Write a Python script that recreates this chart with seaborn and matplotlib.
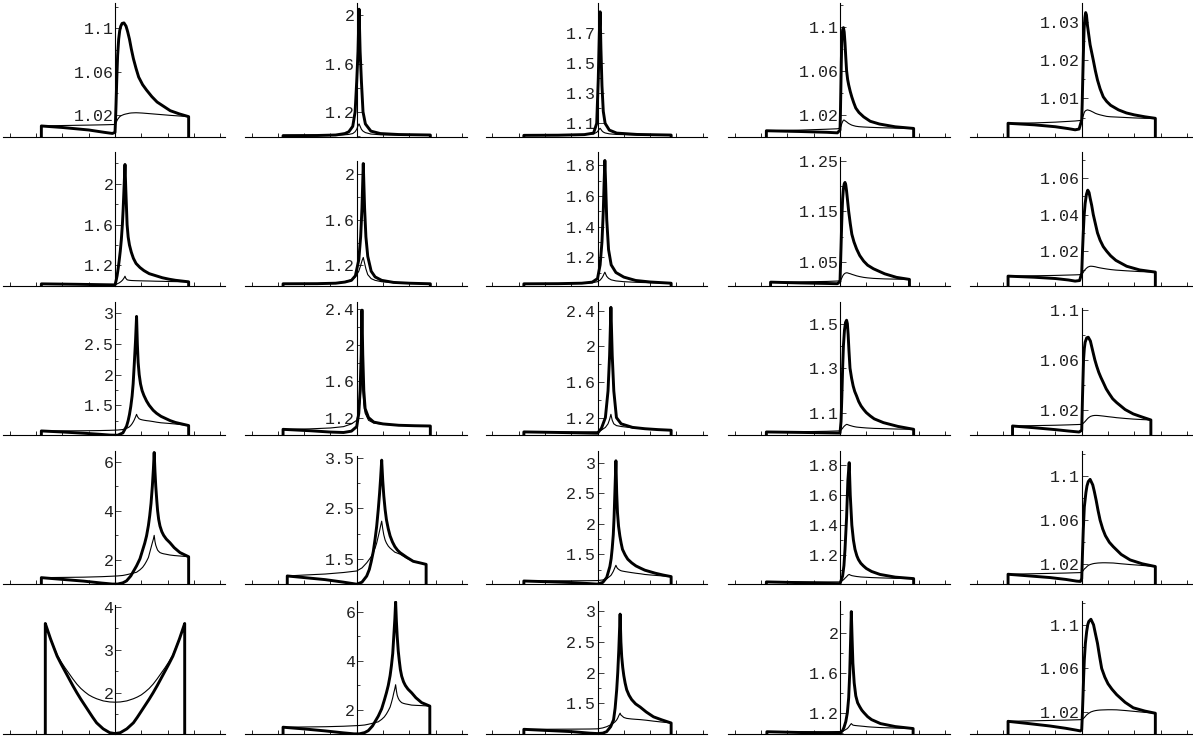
import matplotlib
matplotlib.use("Agg")
import matplotlib.pyplot as plt
import seaborn as sns

# ---------------- data ----------------
# Each panel: shared x grid, thick curve values, thin curve values, labelled y ticks.
P11_X = [-2.8, -2.0, -1.0, -0.4, -0.1, 0.0, 0.02, 0.04, 0.07, 0.1, 0.14, 0.18, 0.22, 0.27, 0.34, 0.42, 0.48, 0.55, 0.62, 0.7, 0.8, 0.9, 1.05, 1.2, 1.4, 1.6, 1.85, 2.1, 2.45, 2.8]
P11_THICK = [1.0099, 1.0085, 1.0062, 1.004, 1.003, 1.004, 1.015, 1.03, 1.055, 1.075, 1.09, 1.098, 1.102, 1.1045, 1.105, 1.102, 1.097, 1.09, 1.081, 1.072, 1.063, 1.055, 1.048, 1.043, 1.037, 1.032, 1.028, 1.024, 1.021, 1.0185]
P11_THIN = [1.0099, 1.0103, 1.0107, 1.011, 1.0112, 1.0113, 1.012, 1.013, 1.0145, 1.016, 1.0173, 1.0185, 1.0192, 1.0198, 1.0205, 1.021, 1.0213, 1.0217, 1.0219, 1.022, 1.0221, 1.022, 1.0218, 1.0215, 1.0211, 1.0207, 1.0202, 1.0197, 1.0191, 1.0185]
P11_TICKS = [1.02, 1.06, 1.1]

P12_X = [-2.8, -1.5, -0.8, -0.45, -0.3, -0.15, -0.06, 0.0, 0.05, 0.09, 0.13, 0.18, 0.24, 0.33, 0.54, 0.9, 1.6, 2.8]
P12_THICK = [1.003, 1.004, 1.008, 1.02, 1.035, 1.08, 1.2, 1.45, 1.7, 2.05, 1.7, 1.45, 1.2, 1.1, 1.04, 1.02, 1.012, 1.008]
P12_THIN = [1.003, 1.004, 1.006, 1.01, 1.013, 1.02, 1.035, 1.055, 1.085, 1.10, 1.08, 1.055, 1.04, 1.028, 1.016, 1.01, 1.008, 1.008]
P12_TICKS = [1.2, 1.6, 2.0]

P13_X = [-2.8, -1.5, -0.5, -0.15, -0.03, 0.03, 0.07, 0.1, 0.13, 0.17, 0.22, 0.29, 0.45, 0.73, 1.5, 2.8]
P13_THICK = [1.02, 1.021, 1.025, 1.035, 1.1, 1.4, 1.7, 1.844, 1.6, 1.35, 1.18, 1.1, 1.055, 1.035, 1.026, 1.022]
P13_THIN = [1.02, 1.021, 1.024, 1.03, 1.04, 1.052, 1.062, 1.067, 1.06, 1.05, 1.042, 1.036, 1.03, 1.026, 1.023, 1.022]
P13_TICKS = [1.1, 1.3, 1.5, 1.7]

P14_X = [-2.8, -1.5, -0.5, -0.1, 0.0, 0.015, 0.03, 0.05, 0.07, 0.1, 0.13, 0.16, 0.19, 0.22, 0.25, 0.29, 0.33, 0.39, 0.45, 0.52, 0.6, 0.72, 0.9, 1.15, 1.5, 2.1, 2.8]
P14_THICK = [1.0054, 1.0047, 1.004, 1.0035, 1.006, 1.02, 1.04, 1.068, 1.088, 1.097, 1.099, 1.095, 1.085, 1.072, 1.06, 1.052, 1.047, 1.041, 1.036, 1.031, 1.026, 1.022, 1.018, 1.014, 1.0115, 1.009, 1.0075]
P14_THIN = [1.0054, 1.006, 1.0068, 1.0072, 1.0078, 1.0084, 1.009, 1.0105, 1.012, 1.0137, 1.015, 1.0151, 1.0145, 1.014, 1.0135, 1.0127, 1.012, 1.0112, 1.0105, 1.01, 1.0095, 1.0091, 1.0088, 1.0085, 1.0082, 1.0078, 1.0075]
P14_TICKS = [1.02, 1.06, 1.1]

P15_X = [-2.8, -1.8, -1.0, -0.5, -0.25, -0.1, 0.0, 0.02, 0.04, 0.065, 0.09, 0.12, 0.15, 0.18, 0.22, 0.27, 0.32, 0.38, 0.44, 0.52, 0.6, 0.7, 0.82, 0.95, 1.1, 1.4, 1.7, 2.0, 2.4, 2.8]
P15_THICK = [1.0035, 1.0031, 1.0026, 1.0021, 1.0018, 1.002, 1.0043, 1.009, 1.015, 1.022, 1.028, 1.031, 1.0324, 1.0318, 1.029, 1.0265, 1.024, 1.022, 1.02, 1.0172, 1.0148, 1.0125, 1.0104, 1.0092, 1.0082, 1.007, 1.0062, 1.0057, 1.0052, 1.0048]
P15_THIN = [1.0035, 1.0036, 1.0038, 1.004, 1.0041, 1.0042, 1.0043, 1.0046, 1.005, 1.0056, 1.0062, 1.0066, 1.0068, 1.0069, 1.007, 1.0069, 1.0068, 1.0066, 1.0064, 1.0061, 1.0059, 1.0057, 1.0055, 1.0053, 1.0052, 1.0051, 1.005, 1.0049, 1.0048, 1.0048]
P15_TICKS = [1.01, 1.02, 1.03]

P21_X = [-2.8, -1.5, -0.5, 0.0, 0.04, 0.08, 0.12, 0.16, 0.2, 0.24, 0.28, 0.31, 0.35, 0.38, 0.41, 0.46, 0.5, 0.55, 0.62, 0.7, 0.8, 0.95, 1.1, 1.3, 1.55, 1.8, 2.05, 2.3, 2.8]
P21_THICK = [1.02, 1.016, 1.012, 1.01, 1.05, 1.1, 1.17, 1.25, 1.34, 1.45, 1.6, 1.75, 2.0, 2.19, 1.95, 1.6, 1.48, 1.4, 1.33, 1.27, 1.22, 1.18, 1.15, 1.12, 1.1, 1.08, 1.066, 1.055, 1.04]
P21_THIN = [1.02, 1.016, 1.012, 1.01, 1.014, 1.02, 1.025, 1.03, 1.037, 1.045, 1.055, 1.065, 1.08, 1.095, 1.075, 1.06, 1.057, 1.055, 1.053, 1.052, 1.051, 1.05, 1.049, 1.048, 1.046, 1.045, 1.043, 1.042, 1.04]
P21_TICKS = [1.2, 1.6, 2.0]

P22_X = [-2.8, -1.5, -0.8, -0.45, -0.2, -0.05, 0.08, 0.15, 0.2, 0.25, 0.3, 0.35, 0.42, 0.55, 0.7, 0.95, 1.4, 2.0, 2.8]
P22_THICK = [1.04, 1.041, 1.045, 1.055, 1.07, 1.11, 1.25, 1.45, 1.7, 2.09, 1.7, 1.45, 1.28, 1.15, 1.1, 1.07, 1.052, 1.045, 1.04]
P22_THIN = [1.04, 1.042, 1.048, 1.058, 1.075, 1.1, 1.15, 1.2, 1.24, 1.27, 1.22, 1.17, 1.12, 1.085, 1.07, 1.058, 1.05, 1.045, 1.04]
P22_TICKS = [1.2, 1.6, 2.0]

P23_X = [-2.8, -1.5, -0.6, -0.2, 0.0, 0.1, 0.17, 0.22, 0.25, 0.28, 0.31, 0.35, 0.42, 0.52, 0.7, 1.0, 1.45, 2.0, 2.8]
P23_THICK = [1.026, 1.027, 1.03, 1.037, 1.06, 1.15, 1.3, 1.5, 1.68, 1.833, 1.68, 1.45, 1.25, 1.15, 1.10, 1.07, 1.048, 1.038, 1.03]
P23_THIN = [1.026, 1.027, 1.029, 1.033, 1.04, 1.05, 1.065, 1.08, 1.092, 1.102, 1.09, 1.075, 1.062, 1.052, 1.045, 1.04, 1.036, 1.033, 1.03]
P23_TICKS = [1.2, 1.4, 1.6, 1.8]

P24_X = [-2.64, -1.5, -0.5, -0.1, 0.0, 0.02, 0.04, 0.06, 0.08, 0.1, 0.13, 0.16, 0.19, 0.22, 0.25, 0.29, 0.33, 0.39, 0.45, 0.53, 0.63, 0.75, 0.9, 1.05, 1.27, 1.7, 2.15, 2.64]
P24_THICK = [1.0106, 1.009, 1.008, 1.0075, 1.012, 1.045, 1.08, 1.118, 1.15, 1.175, 1.195, 1.204, 1.207, 1.202, 1.19, 1.17, 1.15, 1.126, 1.105, 1.09, 1.076, 1.063, 1.052, 1.044, 1.037, 1.027, 1.02, 1.016]
P24_THIN = [1.0106, 1.011, 1.012, 1.0128, 1.0135, 1.0147, 1.016, 1.018, 1.02, 1.0225, 1.025, 1.0268, 1.028, 1.0287, 1.029, 1.0288, 1.028, 1.0272, 1.026, 1.0247, 1.023, 1.0215, 1.02, 1.019, 1.018, 1.017, 1.0165, 1.016]
P24_TICKS = [1.05, 1.15, 1.25]

P25_X = [-2.8, -1.8, -1.0, -0.5, -0.25, -0.08, 0.0, 0.03, 0.06, 0.09, 0.13, 0.18, 0.23, 0.28, 0.32, 0.38, 0.44, 0.52, 0.6, 0.7, 0.82, 0.95, 1.1, 1.3, 1.71, 2.2, 2.8]
P25_THICK = [1.0064, 1.0058, 1.0051, 1.0043, 1.0037, 1.004, 1.008, 1.02, 1.03, 1.039, 1.046, 1.051, 1.0533, 1.052, 1.049, 1.045, 1.04, 1.035, 1.03, 1.026, 1.0225, 1.02, 1.0175, 1.015, 1.0118, 1.0098, 1.0086]
P25_THIN = [1.0064, 1.0066, 1.0068, 1.007, 1.0071, 1.0072, 1.0074, 1.008, 1.0085, 1.0092, 1.01, 1.0107, 1.0113, 1.0116, 1.0118, 1.0118, 1.0117, 1.0115, 1.0112, 1.0109, 1.0106, 1.0103, 1.01, 1.0097, 1.0093, 1.0089, 1.0086]
P25_TICKS = [1.02, 1.04, 1.06]

P31_X = [-2.8, -2.0, -1.2, -0.6, -0.2, 0.1, 0.3, 0.44, 0.5, 0.55, 0.6, 0.65, 0.69, 0.73, 0.78, 0.82, 0.85, 0.88, 0.92, 0.97, 1.03, 1.1, 1.2, 1.3, 1.45, 1.58, 1.75, 1.9, 2.1, 2.3, 2.55, 2.8]
P31_THICK = [1.082, 1.065, 1.045, 1.028, 1.015, 1.012, 1.05, 1.16, 1.25, 1.35, 1.48, 1.65, 1.85, 2.15, 2.55, 2.95, 2.5, 2.2, 2.0, 1.85, 1.74, 1.66, 1.57, 1.5, 1.42, 1.37, 1.32, 1.29, 1.25, 1.22, 1.195, 1.17]
P31_THIN = [1.082, 1.083, 1.085, 1.088, 1.092, 1.097, 1.105, 1.125, 1.137, 1.15, 1.172, 1.2, 1.228, 1.26, 1.31, 1.353, 1.32, 1.3, 1.28, 1.27, 1.263, 1.257, 1.25, 1.245, 1.235, 1.225, 1.215, 1.21, 1.203, 1.195, 1.183, 1.17]
P31_TICKS = [1.5, 2.0, 2.5, 3.0]

P32_X = [-2.8, -1.8, -1.0, -0.5, -0.2, 0.0, 0.08, 0.13, 0.17, 0.2, 0.23, 0.27, 0.32, 0.45, 0.65, 1.0, 1.6, 2.2, 2.8]
P32_THICK = [1.07, 1.055, 1.04, 1.035, 1.05, 1.1, 1.25, 1.5, 1.9, 2.39, 1.9, 1.5, 1.3, 1.2, 1.15, 1.13, 1.115, 1.11, 1.107]
P32_THIN = [1.07, 1.075, 1.085, 1.1, 1.13, 1.17, 1.27, 1.4, 1.55, 1.68, 1.5, 1.35, 1.25, 1.17, 1.14, 1.125, 1.115, 1.11, 1.107]
P32_TICKS = [1.2, 1.6, 2.0, 2.4]

P33_X = [-2.8, -1.5, -0.5, 0.0, 0.15, 0.3, 0.4, 0.46, 0.51, 0.56, 0.62, 0.72, 0.9, 1.33, 1.8, 2.3, 2.8]
P33_THICK = [1.039, 1.033, 1.027, 1.024, 1.08, 1.2, 1.5, 1.9, 2.44, 1.9, 1.5, 1.2, 1.13, 1.09, 1.075, 1.065, 1.058]
P33_THIN = [1.039, 1.039, 1.039, 1.04, 1.06, 1.09, 1.13, 1.18, 1.237, 1.17, 1.13, 1.11, 1.1, 1.085, 1.075, 1.065, 1.058]
P33_TICKS = [1.2, 1.6, 2.0, 2.4]

P34_X = [-2.8, -1.5, -0.5, 0.0, 0.04, 0.07, 0.1, 0.13, 0.17, 0.21, 0.25, 0.28, 0.31, 0.34, 0.38, 0.44, 0.5, 0.56, 0.63, 0.71, 0.8, 0.9, 1.0, 1.15, 1.3, 1.65, 2.2, 2.8]
P34_THICK = [1.013, 1.011, 1.009, 1.008, 1.06, 1.17, 1.3, 1.4, 1.47, 1.505, 1.515, 1.5, 1.45, 1.38, 1.3, 1.255, 1.22, 1.195, 1.175, 1.15, 1.13, 1.114, 1.1, 1.085, 1.072, 1.055, 1.038, 1.025]
P34_THIN = [1.013, 1.014, 1.016, 1.018, 1.022, 1.026, 1.03, 1.035, 1.04, 1.044, 1.047, 1.0465, 1.045, 1.0435, 1.042, 1.04, 1.038, 1.0365, 1.035, 1.034, 1.033, 1.032, 1.031, 1.03, 1.029, 1.028, 1.026, 1.025]
P34_TICKS = [1.1, 1.3, 1.5]

P35_X = [-2.63, -1.8, -1.0, -0.5, -0.1, 0.0, 0.03, 0.07, 0.1, 0.13, 0.19, 0.25, 0.33, 0.42, 0.5, 0.57, 0.65, 0.73, 0.82, 0.93, 1.05, 1.18, 1.33, 1.65, 1.96, 2.3, 2.63]
P35_THICK = [1.0074, 1.006, 1.0045, 1.0034, 1.0026, 1.004, 1.03, 1.06, 1.069, 1.074, 1.0775, 1.078, 1.075, 1.067, 1.06, 1.055, 1.05, 1.046, 1.042, 1.037, 1.033, 1.029, 1.026, 1.0205, 1.017, 1.0145, 1.0122]
P35_THIN = [1.0074, 1.0077, 1.008, 1.0083, 1.0086, 1.0087, 1.009, 1.0098, 1.0104, 1.011, 1.0125, 1.0138, 1.015, 1.0156, 1.0158, 1.0158, 1.0157, 1.0155, 1.0153, 1.015, 1.0147, 1.0144, 1.014, 1.0134, 1.0129, 1.0125, 1.0122]
P35_TICKS = [1.02, 1.06, 1.1]

P41_X = [-2.8, -2.0, -1.2, -0.5, -0.1, 0.1, 0.3, 0.44, 0.6, 0.82, 0.95, 1.05, 1.13, 1.2, 1.27, 1.32, 1.37, 1.42, 1.46, 1.49, 1.52, 1.55, 1.59, 1.62, 1.66, 1.71, 1.78, 1.85, 1.95, 2.09, 2.25, 2.47, 2.8]
P41_THICK = [1.28, 1.21, 1.14, 1.06, 1.02, 1.02, 1.07, 1.15, 1.35, 1.76, 2.05, 2.4, 2.68, 2.98, 3.4, 3.8, 4.3, 5.0, 5.7, 6.37, 5.6, 5.0, 4.4, 4.0, 3.65, 3.38, 3.15, 3.0, 2.85, 2.7, 2.5, 2.3, 2.13]
P41_THIN = [1.28, 1.29, 1.3, 1.32, 1.34, 1.35, 1.37, 1.4, 1.44, 1.5, 1.6, 1.7, 1.82, 1.95, 2.1, 2.3, 2.5, 2.7, 2.85, 3.0, 2.75, 2.6, 2.48, 2.4, 2.35, 2.3, 2.27, 2.25, 2.23, 2.2, 2.18, 2.16, 2.13]
P41_TICKS = [2, 4, 6]

P42_X = [-2.64, -2.0, -1.2, -0.5, 0.0, 0.2, 0.38, 0.48, 0.55, 0.63, 0.7, 0.76, 0.82, 0.87, 0.91, 0.95, 0.99, 1.03, 1.08, 1.13, 1.2, 1.27, 1.36, 1.45, 1.55, 1.65, 1.9, 2.15, 2.4, 2.64]
P42_THICK = [1.172, 1.14, 1.1, 1.05, 1.01, 1.05, 1.17, 1.3, 1.45, 1.65, 1.9, 2.15, 2.48, 2.8, 3.1, 3.45, 3.05, 2.75, 2.48, 2.28, 2.1, 1.96, 1.84, 1.75, 1.68, 1.63, 1.54, 1.46, 1.43, 1.40]
P42_THIN = [1.172, 1.19, 1.21, 1.24, 1.27, 1.33, 1.43, 1.5, 1.55, 1.63, 1.72, 1.82, 1.95, 2.06, 2.16, 2.25, 2.1, 1.98, 1.88, 1.82, 1.76, 1.72, 1.68, 1.64, 1.62, 1.6, 1.52, 1.46, 1.43, 1.40]
P42_TICKS = [1.5, 2.5, 3.5]

P43_X = [-2.8, -2.0, -1.0, -0.3, 0.0, 0.2, 0.35, 0.47, 0.52, 0.56, 0.6, 0.63, 0.66, 0.7, 0.73, 0.76, 0.8, 0.85, 0.9, 0.95, 1.05, 1.15, 1.3, 1.46, 1.65, 1.8, 2.0, 2.2, 2.5, 2.8]
P43_THICK = [1.063, 1.052, 1.038, 1.02, 1.012, 1.04, 1.12, 1.3, 1.43, 1.6, 1.82, 2.1, 2.5, 3.03, 2.5, 2.18, 1.96, 1.8, 1.68, 1.58, 1.49, 1.42, 1.36, 1.31, 1.27, 1.24, 1.215, 1.19, 1.16, 1.135]
P43_THIN = [1.063, 1.064, 1.066, 1.068, 1.07, 1.08, 1.1, 1.14, 1.16, 1.19, 1.22, 1.25, 1.28, 1.32, 1.29, 1.27, 1.255, 1.24, 1.23, 1.225, 1.217, 1.21, 1.2, 1.19, 1.18, 1.17, 1.162, 1.155, 1.145, 1.135]
P43_TICKS = [1.5, 2.0, 2.5, 3.0]

P44_X = [-2.8, -1.5, -0.5, 0.0, 0.1, 0.15, 0.19, 0.25, 0.3, 0.35, 0.39, 0.45, 0.51, 0.57, 0.64, 0.7, 0.79, 0.89, 1.0, 1.2, 1.52, 2.1, 2.8]
P44_THICK = [1.02, 1.015, 1.01, 1.008, 1.06, 1.13, 1.238, 1.45, 1.7, 1.818, 1.6, 1.4, 1.3, 1.238, 1.195, 1.17, 1.145, 1.127, 1.11, 1.09, 1.07, 1.052, 1.042]
P44_THIN = [1.02, 1.02, 1.02, 1.02, 1.03, 1.037, 1.045, 1.055, 1.065, 1.07, 1.066, 1.062, 1.06, 1.058, 1.056, 1.055, 1.053, 1.052, 1.051, 1.049, 1.047, 1.044, 1.042]
P44_TICKS = [1.2, 1.4, 1.6, 1.8]

P45_X = [-2.8, -2.0, -1.2, -0.6, -0.2, -0.05, 0.0, 0.03, 0.06, 0.1, 0.16, 0.2, 0.25, 0.32, 0.42, 0.48, 0.55, 0.62, 0.7, 0.8, 0.9, 1.05, 1.2, 1.5, 1.84, 2.3, 2.8]
P45_THICK = [1.011, 1.0095, 1.008, 1.0063, 1.0048, 1.0045, 1.007, 1.03, 1.051, 1.072, 1.085, 1.091, 1.095, 1.097, 1.092, 1.086, 1.078, 1.069, 1.06, 1.052, 1.046, 1.04, 1.036, 1.029, 1.024, 1.0205, 1.018]
P45_THIN = [1.011, 1.0114, 1.0118, 1.0121, 1.0124, 1.0125, 1.0127, 1.0135, 1.0145, 1.0158, 1.017, 1.018, 1.019, 1.0198, 1.0205, 1.0208, 1.021, 1.0212, 1.0213, 1.0214, 1.0214, 1.0213, 1.0212, 1.0205, 1.0198, 1.019, 1.018]
P45_TICKS = [1.02, 1.06, 1.1]

P51_X = [-2.65, -2.55, -2.45, -2.32, -2.2, -2.05, -1.9, -1.75, -1.6, -1.45, -1.3, -1.15, -1.0, -0.85, -0.7, -0.45, -0.2, 0.0,
         0.2, 0.45, 0.7, 0.85, 1.0, 1.15, 1.3, 1.45, 1.6, 1.75, 1.9, 2.05, 2.2, 2.32, 2.45, 2.55, 2.65]
P51_THICK = [3.61, 3.43, 3.25, 3.04, 2.85, 2.67, 2.5, 2.33, 2.16, 2.0, 1.85, 1.71, 1.57, 1.43, 1.3, 1.16, 1.07, 1.05,
             1.07, 1.16, 1.3, 1.43, 1.57, 1.71, 1.85, 2.0, 2.16, 2.33, 2.5, 2.67, 2.85, 3.04, 3.25, 3.43, 3.61]
P51_THIN = [3.61, 3.43, 3.26, 3.06, 2.88, 2.72, 2.58, 2.45, 2.32, 2.2, 2.1, 2.02, 1.95, 1.9, 1.86, 1.81, 1.785, 1.78,
            1.785, 1.81, 1.86, 1.9, 1.95, 2.02, 2.1, 2.2, 2.32, 2.45, 2.58, 2.72, 2.88, 3.06, 3.26, 3.43, 3.61]
P51_TICKS = [2, 3, 4]

P52_X = [-2.8, -2.0, -1.2, -0.5, -0.1, 0.1, 0.3, 0.44, 0.6, 0.82, 0.95, 1.05, 1.13, 1.2, 1.27, 1.32, 1.37, 1.41, 1.45, 1.48, 1.51, 1.54, 1.58, 1.62, 1.66, 1.71, 1.78, 1.85, 1.95, 2.09, 2.25, 2.47, 2.78]
P52_THICK = [1.3, 1.23, 1.15, 1.07, 1.03, 1.03, 1.08, 1.16, 1.35, 1.75, 2.05, 2.4, 2.7, 3.0, 3.4, 3.8, 4.3, 5.0, 5.7, 6.4, 5.6, 5.0, 4.4, 4.0, 3.65, 3.38, 3.15, 3.0, 2.85, 2.7, 2.5, 2.3, 2.16]
P52_THIN = [1.3, 1.31, 1.32, 1.34, 1.36, 1.37, 1.39, 1.42, 1.46, 1.52, 1.62, 1.72, 1.84, 1.97, 2.12, 2.3, 2.5, 2.7, 2.87, 3.03, 2.78, 2.6, 2.48, 2.4, 2.35, 2.3, 2.27, 2.25, 2.23, 2.2, 2.19, 2.18, 2.16]
P52_TICKS = [2, 4, 6]

P53_X = [-2.8, -2.0, -1.0, -0.3, 0.0, 0.2, 0.35, 0.5, 0.61, 0.67, 0.73, 0.77, 0.81, 0.86, 0.89, 0.92, 0.96, 1.0, 1.05, 1.11, 1.2, 1.3, 1.45, 1.62, 1.85, 2.13, 2.45, 2.8]
P53_THICK = [1.077, 1.06, 1.04, 1.015, 1.008, 1.015, 1.04, 1.12, 1.23, 1.42, 1.72, 2.0, 2.37, 2.95, 2.5, 2.26, 2.08, 1.95, 1.83, 1.72, 1.63, 1.56, 1.49, 1.44, 1.36, 1.28, 1.23, 1.18]
P53_THIN = [1.077, 1.078, 1.08, 1.082, 1.085, 1.1, 1.12, 1.15, 1.18, 1.2, 1.23, 1.26, 1.3, 1.34, 1.31, 1.3, 1.285, 1.27, 1.263, 1.255, 1.25, 1.245, 1.24, 1.235, 1.225, 1.21, 1.195, 1.18]
P53_TICKS = [1.5, 2.0, 2.5, 3.0]

P54_X = [-2.78, -1.5, -0.5, 0.0, 0.1, 0.15, 0.22, 0.28, 0.33, 0.37, 0.4, 0.43, 0.46, 0.49, 0.54, 0.6, 0.67, 0.75, 0.83, 0.91, 1.05, 1.2, 1.54, 2.1, 2.78]
P54_THICK = [1.008, 1.0, 0.995, 0.993, 1.02, 1.05, 1.11, 1.2, 1.35, 1.6, 1.9, 2.22, 1.95, 1.7, 1.5, 1.37, 1.3, 1.26, 1.225, 1.2, 1.16, 1.13, 1.09, 1.06, 1.04]
P54_THIN = [1.008, 1.008, 1.008, 1.01, 1.015, 1.02, 1.03, 1.04, 1.055, 1.07, 1.08, 1.09, 1.082, 1.075, 1.072, 1.07, 1.068, 1.066, 1.064, 1.062, 1.058, 1.055, 1.05, 1.045, 1.04]
P54_TICKS = [1.2, 1.6, 2.0]

P55_X = [-2.8, -2.0, -1.2, -0.6, -0.2, -0.05, 0.0, 0.025, 0.05, 0.075, 0.1, 0.14, 0.19, 0.23, 0.27, 0.35, 0.45, 0.52, 0.6, 0.68, 0.76, 0.88, 1.0, 1.15, 1.33, 1.65, 1.96, 2.4, 2.8]
P55_THICK = [1.0116, 1.0095, 1.0073, 1.0052, 1.0035, 1.0028, 1.004, 1.018, 1.035, 1.053, 1.068, 1.083, 1.094, 1.1, 1.103, 1.105, 1.1, 1.092, 1.083, 1.071, 1.06, 1.052, 1.046, 1.041, 1.036, 1.029, 1.024, 1.021, 1.019]
P55_THIN = [1.0116, 1.012, 1.0124, 1.0127, 1.013, 1.0131, 1.0132, 1.0136, 1.014, 1.0145, 1.015, 1.0162, 1.0175, 1.0183, 1.019, 1.0202, 1.021, 1.0214, 1.0217, 1.0219, 1.022, 1.0221, 1.0222, 1.0222, 1.0221, 1.0215, 1.0208, 1.0198, 1.019]
P55_TICKS = [1.02, 1.06, 1.1]

OUTSIDE = 0.0  # the curves vanish outside their interval

# ---------------- layout (axis origin, plot-range top, y-axis top) ----------------
LIMITS = [
    [(1.0, 1.123, 1.123), (0.994, 2.098, 2.098), (1.011, 1.900, 1.900), (1.0, 1.121, 1.121), (1.0, 1.0348, 1.0348)],
    [(1.004, 2.31, 2.31), (1.025, 2.189, 2.116), (1.015, 1.887, 1.887), (1.004, 1.2665, 1.257), (1.0013, 1.074, 1.074)],
    [(1.011, 3.185, 3.185), (1.004, 2.48, 2.48), (1.001, 2.50, 2.50), (0.998, 1.597, 1.597), (1.0, 1.106, 1.101)],
    [(1.01, 6.43, 6.43), (1.008, 3.63, 3.53), (1.009, 3.19, 3.19), (1.004, 1.896, 1.896), (1.0019, 1.1227, 1.1227)],
    [(1.04, 4.14, 4.04), (1.024, 6.45, 6.45), (1.001, 3.168, 3.168), (0.985, 2.33, 2.33), (1.0, 1.122, 1.122)],
]

PANELS = [
    [(P11_X, P11_THICK, P11_THIN, P11_TICKS), (P12_X, P12_THICK, P12_THIN, P12_TICKS),
     (P13_X, P13_THICK, P13_THIN, P13_TICKS), (P14_X, P14_THICK, P14_THIN, P14_TICKS),
     (P15_X, P15_THICK, P15_THIN, P15_TICKS)],
    [(P21_X, P21_THICK, P21_THIN, P21_TICKS), (P22_X, P22_THICK, P22_THIN, P22_TICKS),
     (P23_X, P23_THICK, P23_THIN, P23_TICKS), (P24_X, P24_THICK, P24_THIN, P24_TICKS),
     (P25_X, P25_THICK, P25_THIN, P25_TICKS)],
    [(P31_X, P31_THICK, P31_THIN, P31_TICKS), (P32_X, P32_THICK, P32_THIN, P32_TICKS),
     (P33_X, P33_THICK, P33_THIN, P33_TICKS), (P34_X, P34_THICK, P34_THIN, P34_TICKS),
     (P35_X, P35_THICK, P35_THIN, P35_TICKS)],
    [(P41_X, P41_THICK, P41_THIN, P41_TICKS), (P42_X, P42_THICK, P42_THIN, P42_TICKS),
     (P43_X, P43_THICK, P43_THIN, P43_TICKS), (P44_X, P44_THICK, P44_THIN, P44_TICKS),
     (P45_X, P45_THICK, P45_THIN, P45_TICKS)],
    [(P51_X, P51_THICK, P51_THIN, P51_TICKS), (P52_X, P52_THICK, P52_THIN, P52_TICKS),
     (P53_X, P53_THICK, P53_THIN, P53_TICKS), (P54_X, P54_THICK, P54_THIN, P54_TICKS),
     (P55_X, P55_THICK, P55_THIN, P55_TICKS)],
]

W_PX, H_PX = 1193, 738
COL_AXIS_PX = [115, 356.7, 597.5, 840, 1081.7]
ROW_AXIS_PX = [136.7, 285.5, 435.3, 584.3, 734]
XLIM = (-4.24, 4.18)
UNIT_PX = 26.3
BOX_H = 133.3

sns.set_theme(style="white")
plt.rcParams["font.family"] = ["Liberation Mono", "DejaVu Sans Mono"]

fig = plt.figure(figsize=(W_PX / 100, H_PX / 100), dpi=100)
fig.patch.set_facecolor("white")

for r in range(5):
    for c in range(5):
        xs, thick, thin, ticks = PANELS[r][c]
        y0, ytop, axtop = LIMITS[r][c]
        left = COL_AXIS_PX[c] + XLIM[0] * UNIT_PX
        width = (XLIM[1] - XLIM[0]) * UNIT_PX
        bottom = H_PX - ROW_AXIS_PX[r]
        ax = fig.add_axes([left / W_PX, bottom / H_PX, width / W_PX, BOX_H / H_PX])
        ax.set_facecolor("none")

        xx = [xs[0]] + list(xs) + [xs[-1]]
        yk = [OUTSIDE] + list(thick) + [OUTSIDE]
        yt = [OUTSIDE] + list(thin) + [OUTSIDE]
        sns.lineplot(x=xx, y=yt, ax=ax, color="black", linewidth=0.8,
                     estimator=None, sort=False)
        sns.lineplot(x=xx, y=yk, ax=ax, color="black", linewidth=2.1,
                     estimator=None, sort=False)

        ax.set_xlim(*XLIM)
        ax.set_ylim(y0, ytop)

        for s in ("top", "right"):
            ax.spines[s].set_visible(False)
        ax.spines["left"].set_position(("data", 0))
        ax.spines["left"].set_bounds(y0, axtop)
        for s in ("left", "bottom"):
            ax.spines[s].set_color("black")
            ax.spines[s].set_linewidth(0.8)

        ax.set_xticks(range(-4, 5))
        ax.set_xticklabels([])
        ax.tick_params(axis="x", direction="in", length=3, width=0.6,
                       color="black", bottom=True)

        step = ticks[1] - ticks[0]
        minors = [t + step / 2 for t in ticks] + [ticks[0] - step / 2]
        minors = [m for m in minors if y0 + 1e-9 < m <= axtop]
        ax.set_yticks(ticks)
        ax.set_yticklabels([f"{t:g}" for t in ticks])
        ax.set_yticks(minors, minor=True)
        ax.tick_params(axis="y", which="major", direction="in", length=4,
                       width=0.6, pad=1, labelsize=12, colors="#222222",
                       left=True)
        ax.tick_params(axis="y", which="minor", direction="in", length=2.5,
                       width=0.6, left=True, color="#222222")
        ax.set_xlabel("")
        ax.set_ylabel("")
        ax.grid(False)

fig.savefig("out.png", dpi=100, facecolor="white")
